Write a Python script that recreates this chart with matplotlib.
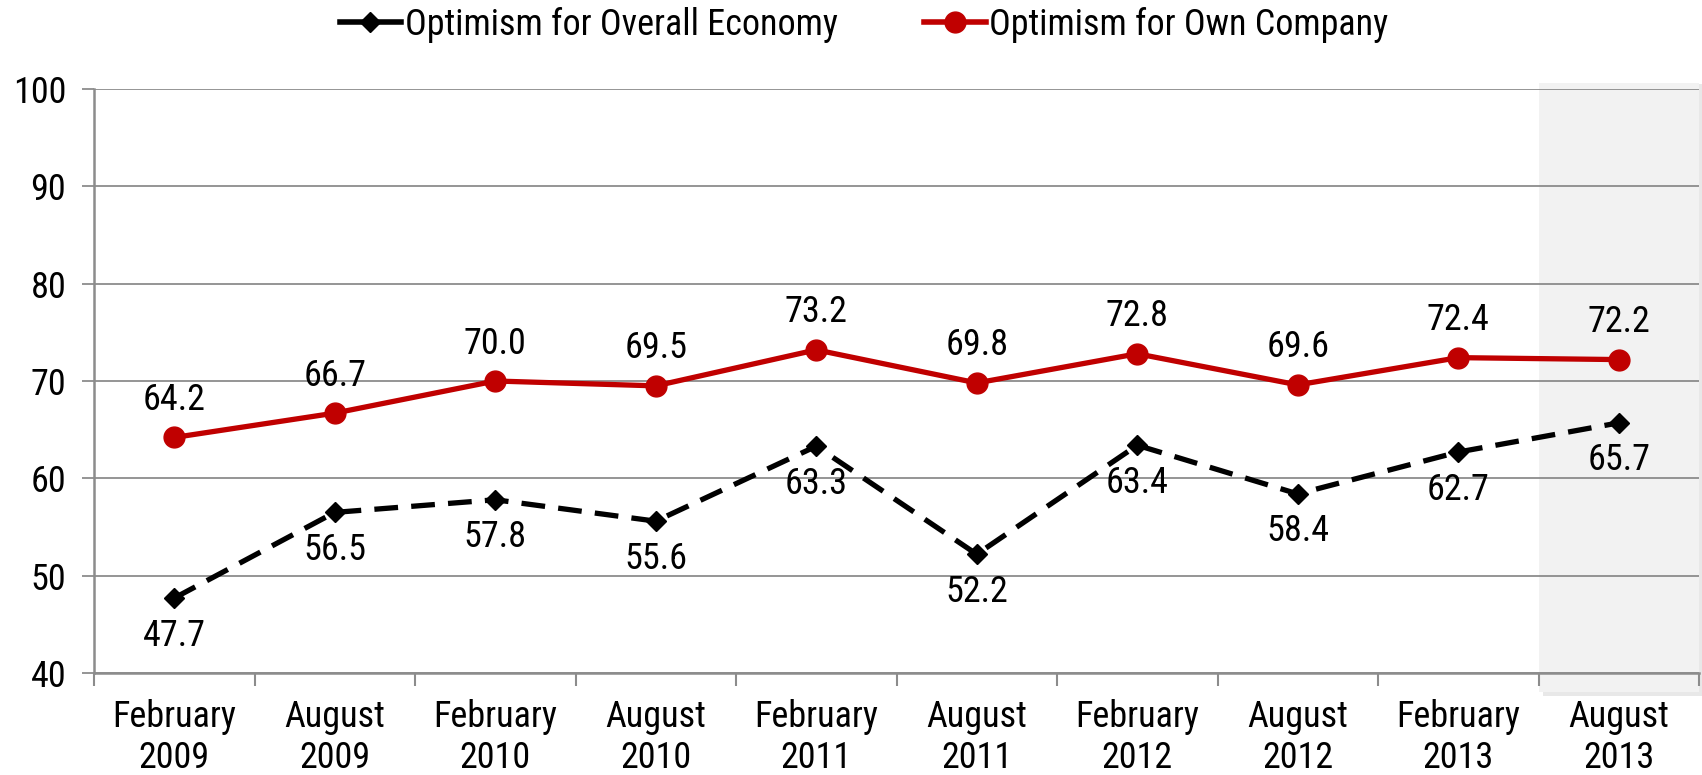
import matplotlib
matplotlib.use("Agg")
import matplotlib.pyplot as plt
from matplotlib import font_manager as fm
from matplotlib.patches import Rectangle
from matplotlib.lines import Line2D

categories = ["February\n2009", "August\n2009", "February\n2010", "August\n2010",
              "February\n2011", "August\n2011", "February\n2012", "August\n2012",
              "February\n2013", "August\n2013"]
economy = [47.7, 56.5, 57.8, 55.6, 63.3, 52.2, 63.4, 58.4, 62.7, 65.7]
company = [64.2, 66.7, 70.0, 69.5, 73.2, 69.8, 72.8, 69.6, 72.4, 72.2]
yticks = [40, 50, 60, 70, 80, 90, 100]

# pick a narrow/condensed sans font if one is installed
names = {f.name for f in fm.fontManager.ttflist}
narrow_stretch = [f for f in fm.fontManager.ttflist
                  if f.name in ('Roboto', 'Open Sans', 'Noto Sans', 'Liberation Sans', 'Inter', 'Lato')
                  and str(f.stretch) in ('condensed', 'semi-condensed', 'extra-condensed', '75', '87')]
chosen = None
stretch = 'normal'
for cand in ['Liberation Sans Narrow', 'Arial Narrow', 'Roboto Condensed', 'Open Sans Condensed',
             'Noto Sans Condensed', 'Nimbus Sans Narrow']:
    if cand in names:
        chosen = cand
        break
if chosen is None and narrow_stretch:
    chosen = narrow_stretch[0].name
    stretch = narrow_stretch[0].stretch
fs = 26
if chosen is None:
    chosen = 'Liberation Sans'
    fs = 24
plt.rcParams['font.family'] = [chosen, 'Liberation Sans', 'DejaVu Sans']
plt.rcParams['font.stretch'] = stretch

fig = plt.figure(figsize=(17.02, 7.75), dpi=100)
ax = fig.add_axes([94/1702, 1-673/775, (1699-94)/1702, (673-89)/775])

red = '#c00000'
grid_c = '#8c8c8c'
x = list(range(len(categories)))

# highlight last period
ax.add_patch(Rectangle((len(categories)-1.5 + 0.03, 37.6), 1.0, 62.9, facecolor='#d9d9d9',
                       edgecolor='none', zorder=0, clip_on=False, alpha=0.6))
ax.add_patch(Rectangle((len(categories)-1.5, 38.0), 1.0, 62.6, facecolor='#f2f2f2',
                       edgecolor='none', zorder=0.5, clip_on=False))

for yv in yticks:
    ax.axhline(yv, color=grid_c, lw=1.3, zorder=1)

ax.plot(x, economy, color='black', lw=3.8, ls=(0, (4.5, 2.5)), marker='D', ms=10,
        zorder=3, label='Optimism for Overall Economy')
ax.plot(x, company, color=red, lw=3.8, marker='o', ms=15, zorder=4,
        label='Optimism for Own Company')

for xi, v in zip(x, economy):
    ax.annotate(f"{v:.1f}", (xi, v), xytext=(0, -27), textcoords='offset points',
                ha='center', va='center', fontsize=fs, zorder=5)
for xi, v in zip(x, company):
    ax.annotate(f"{v:.1f}", (xi, v), xytext=(0, 27), textcoords='offset points',
                ha='center', va='center', fontsize=fs, zorder=5)

ax.set_xlim(-0.5, len(categories)-0.5)
ax.set_ylim(40, 100)
ax.set_yticks(yticks)
ax.set_yticklabels([str(v) for v in yticks], fontsize=fs)
ax.set_xticks(x)
ax.set_xticklabels(categories, fontsize=fs, linespacing=1.15)
ax.set_xticks([i - 0.5 for i in range(len(categories)+1)], minor=True)
ax.tick_params(axis='x', which='major', length=0, pad=19)
ax.tick_params(axis='x', which='minor', length=9, color=grid_c, width=1.5, direction='out')
ax.tick_params(axis='y', length=9, color=grid_c, width=1.3, pad=11)

for s in ['top', 'right']:
    ax.spines[s].set_visible(False)
ax.spines['left'].set_color(grid_c)
ax.spines['left'].set_linewidth(1.8)
ax.spines['bottom'].set_color(grid_c)
ax.spines['bottom'].set_linewidth(1.8)
ax.set_facecolor('none')

handles = [Line2D([], [], color='black', lw=4, marker='D', ms=10),
           Line2D([], [], color=red, lw=4, marker='o', ms=15)]
fig.legend(handles, ['Optimism for Overall Economy', 'Optimism for Own Company'],
           loc='center', bbox_to_anchor=(864/1702, 1-25/775), ncol=2, frameon=False,
           fontsize=fs, handlelength=1.7, handletextpad=0.1, columnspacing=2.4)

fig.savefig('out.png', dpi=100)
